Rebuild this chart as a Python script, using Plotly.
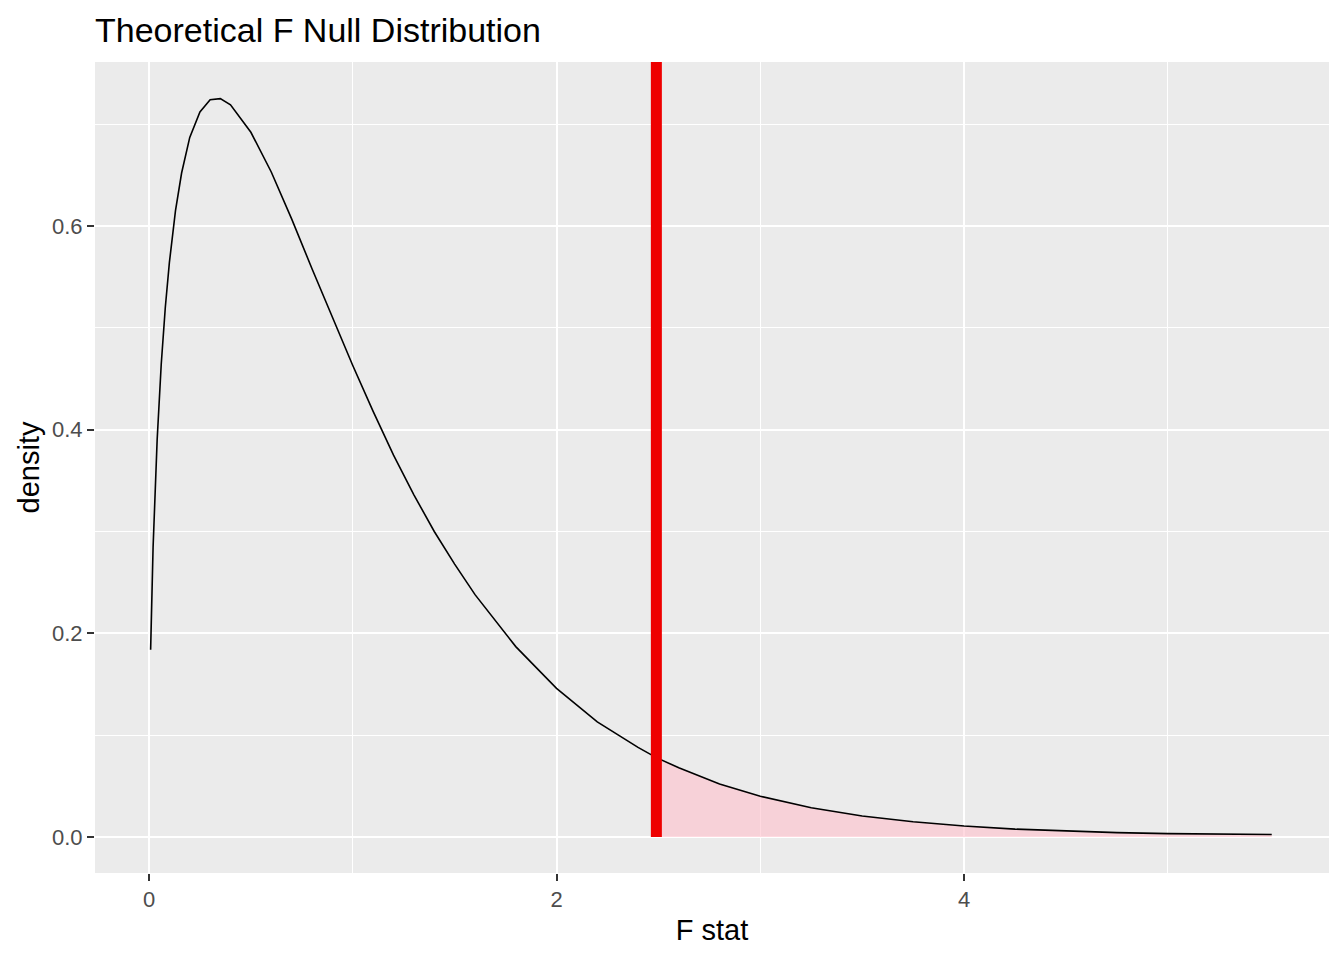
import plotly.graph_objects as go

# F statistic grid and theoretical density
f_stat = [0.008, 0.02, 0.04, 0.06, 0.08, 0.10, 0.13, 0.16, 0.20, 0.25, 0.30, 0.35,
          0.40, 0.50, 0.60, 0.70, 0.80, 0.90, 1.00, 1.10, 1.20, 1.30, 1.40, 1.50,
          1.60, 1.80, 2.00, 2.20, 2.40, 2.49, 2.60, 2.80, 3.00, 3.25, 3.50, 3.75,
          4.00, 4.25, 4.50, 4.75, 5.00, 5.25, 5.51]
density = [0.184, 0.284, 0.390, 0.464, 0.520, 0.564, 0.615, 0.652, 0.687, 0.712,
           0.724, 0.725, 0.719, 0.692, 0.653, 0.607, 0.558, 0.510, 0.463, 0.418,
           0.375, 0.336, 0.300, 0.268, 0.238, 0.187, 0.146, 0.113, 0.088, 0.078,
           0.068, 0.052, 0.040, 0.0288, 0.0207, 0.0150, 0.0108, 0.0078, 0.0058,
           0.0043, 0.0034, 0.0028, 0.0025]
observed_f = 2.49
x_ticks = [0, 2, 4]
y_ticks = [0.0, 0.2, 0.4, 0.6]

shade_x = [x for x in f_stat if x >= observed_f]
shade_y = [y for x, y in zip(f_stat, density) if x >= observed_f]

FONT = "Liberation Sans, Arial, sans-serif"

fig = go.Figure()
fig.add_trace(go.Scatter(
    x=shade_x, y=shade_y, mode="lines", fill="tozeroy",
    fillcolor="rgba(255,192,203,0.6)", line=dict(width=0),
    hoverinfo="skip", showlegend=False))
fig.add_trace(go.Scatter(
    x=f_stat, y=density, mode="lines",
    line=dict(color="black", width=1.6), showlegend=False))

y_top = 0.761
fig.add_shape(type="line", x0=observed_f, x1=observed_f, y0=0, y1=y_top,
              xref="x", yref="y", line=dict(color="#EE0000", width=11), layer="above")

axis_common = dict(
    showgrid=True, gridcolor="white", gridwidth=2,
    zeroline=False, showline=False, automargin=False,
    ticks="outside", ticklen=7, tickcolor="#333333", tickwidth=2,
    tickfont=dict(family=FONT, size=22, color="#4D4D4D"),
)

fig.update_layout(
    width=1344, height=960,
    paper_bgcolor="white", plot_bgcolor="#EBEBEB",
    margin=dict(l=87, r=23, t=54, b=95),
    title=dict(text="Theoretical F Null Distribution", x=0, xref="paper",
               y=1 - 22 / 960, yref="container", yanchor="middle", xanchor="left",
               font=dict(family=FONT, size=34, color="black")),
    xaxis=dict(range=[-0.265, 5.791], tickvals=x_ticks, ticktext=[str(v) for v in x_ticks],
               minor=dict(showgrid=True, gridcolor="white", gridwidth=1, tickvals=[1, 3, 5]),
               title=dict(text="F stat", font=dict(family=FONT, size=29, color="black"), standoff=8),
               **axis_common),
    yaxis=dict(range=[-0.0353, y_top], tickvals=y_ticks, ticktext=[f"{v:.1f}" for v in y_ticks],
               minor=dict(showgrid=True, gridcolor="white", gridwidth=1, tickvals=[0.1, 0.3, 0.5, 0.7]),
               title=dict(text="density", font=dict(family=FONT, size=29, color="black"), standoff=3),
               **axis_common),
)

fig.write_html("out.html")
